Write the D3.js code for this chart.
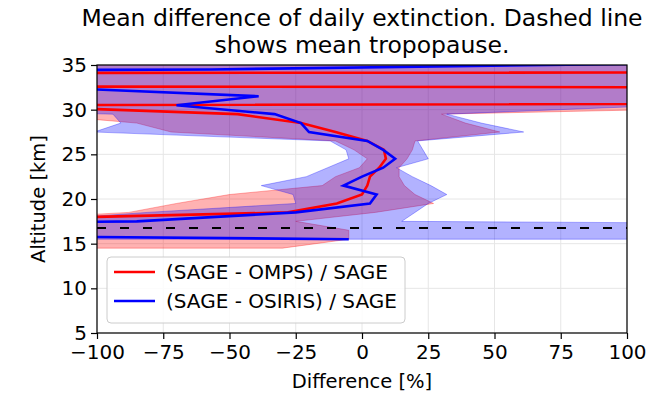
<!DOCTYPE html>
<html>
<head>
<meta charset="utf-8">
<script src="https://cdn.jsdelivr.net/npm/d3@7"></script>
<style>
  html, body { margin: 0; padding: 0; background: #fff; }
  svg { display: block; font-family: "DejaVu Sans", sans-serif; }
</style>
</head>
<body>
<svg id="chart" width="671" height="397"></svg>
<script>
// Altitude grid of the profiles [km]
const altitude = [14.5, 15.5, 16.5, 17.5, 18.5, 19.5, 20.5, 21.5, 22.5, 23.5, 24.5,
                  25.5, 26.5, 27.5, 28.5, 29.5, 30.5, 31.5, 32.5, 33.5, 34.5, 35.5];

// (SAGE - OMPS) / SAGE : mean and spread band [%]
const ompsMean = [-420, -300, -800, -172, -28, -9.5, 0, 2, 3, 6.5, 9,
                  8.3, 2, -10, -23, -47, -142, 1600, 150, -3000, 1700, 2000];
const ompsLow  = [-800, -700, -1600, -150, -88, -70, -50, -15, -10, -1, 2,
                  -3, -10, -72, -85, -124, -500, -3000, -3000, -6000, -4000, -4000];
const ompsHigh = [-30, -5, -5, -25, 5, 27, 20, 16, 14, 14, 17,
                  19, 20, 52, 39, 30, 189, 5000, 3000, 6000, 6000, 6000];

// (SAGE - OSIRIS) / SAGE : mean and spread band [%] (no value at the lowest level)
const osirisMean = [null, -5, -400, -85, -25, 3, 5.5, -7, 0, 8, 12.5,
                    8, 2, -20, -23, -33, -70, -39, -120, -1000, -57, 200];
const osirisLow  = [null, -400, -1000, -128, -81, -25, -26, -38, -21, -13, -5,
                    -6, -12, -101, -91, -94, -257, -2000, -2000, -4000, -3000, -3000];
const osirisHigh = [null, 400, 600, 15, 20, 25, 32, 26, 19, 13, 25,
                    23, 21, 61, 45, 32, 117, 2000, 2000, 3000, 3000, 3000];

// Mean tropopause height [km]
const tropopause = 16.75;

const xTicks = [-100, -75, -50, -25, 0, 25, 50, 75, 100];
const yTicks = [5, 10, 15, 20, 25, 30, 35];

const seriesNames = ["(SAGE - OMPS) / SAGE", "(SAGE - OSIRIS) / SAGE"];

// ---- layout ----
const plot = { left: 97, right: 627, top: 65, bottom: 333 };
const TICK_FONT = 20, LABEL_FONT = 19.5, LEGEND_FONT = 20, TITLE_FONT = 23.5;

const svg = d3.select("#chart");
const x = d3.scaleLinear().domain([-100, 100]).range([plot.left, plot.right]);
const y = d3.scaleLinear().domain([5, 35]).range([plot.bottom, plot.top]);

const fmt = v => (v < 0 ? "\u2212" + Math.abs(v) : String(v));

// clip region for the data
svg.append("defs").append("clipPath").attr("id", "plotClip")
  .append("rect")
  .attr("x", plot.left).attr("y", plot.top)
  .attr("width", plot.right - plot.left).attr("height", plot.bottom - plot.top);

// grid
const grid = svg.append("g").attr("class", "grid");
grid.selectAll("line.gx").data(xTicks).join("line")
  .attr("x1", d => x(d)).attr("x2", d => x(d))
  .attr("y1", plot.top).attr("y2", plot.bottom)
  .attr("stroke", "#e6e6e6").attr("stroke-width", 1);
grid.selectAll("line.gy").data(yTicks).join("line")
  .attr("y1", d => y(d)).attr("y2", d => y(d))
  .attr("x1", plot.left).attr("x2", plot.right)
  .attr("stroke", "#e6e6e6").attr("stroke-width", 1);

// build profile records
function profile(mean, low, high) {
  return altitude.map((a, i) => ({ alt: a, mean: mean[i], low: low[i], high: high[i] }))
    .filter(d => d.mean !== null);
}
const series = [
  { name: seriesNames[0], color: "#ff0000", data: profile(ompsMean, ompsLow, ompsHigh) },
  { name: seriesNames[1], color: "#0000ff", data: profile(osirisMean, osirisLow, osirisHigh) }
];

const dataLayer = svg.append("g").attr("clip-path", "url(#plotClip)");

const band = d3.area()
  .y(d => y(d.alt))
  .x0(d => x(d.low))
  .x1(d => x(d.high));

const line = d3.line()
  .y(d => y(d.alt))
  .x(d => x(d.mean));

series.forEach(s => {
  dataLayer.append("path")
    .datum(s.data)
    .attr("d", band)
    .attr("fill", s.color).attr("fill-opacity", 0.3)
    .attr("stroke", s.color).attr("stroke-opacity", 0.3).attr("stroke-width", 1);
});

series.forEach(s => {
  dataLayer.append("path")
    .datum(s.data)
    .attr("d", line)
    .attr("fill", "none")
    .attr("stroke", s.color).attr("stroke-width", 2.6)
    .attr("stroke-linejoin", "miter");
});

// tropopause
dataLayer.append("line")
  .attr("x1", plot.left).attr("x2", plot.right)
  .attr("y1", y(tropopause)).attr("y2", y(tropopause))
  .attr("stroke", "#000").attr("stroke-width", 2)
  .attr("stroke-dasharray", "9,14");

// frame
svg.append("rect")
  .attr("x", plot.left).attr("y", plot.top)
  .attr("width", plot.right - plot.left).attr("height", plot.bottom - plot.top)
  .attr("fill", "none").attr("stroke", "#000").attr("stroke-width", 1.2);

// axes
const xAxis = svg.append("g")
  .attr("transform", `translate(0,${plot.bottom})`)
  .call(d3.axisBottom(x).tickValues(xTicks).tickFormat(fmt).tickSize(6).tickPadding(6));
const yAxis = svg.append("g")
  .attr("transform", `translate(${plot.left},0)`)
  .call(d3.axisLeft(y).tickValues(yTicks).tickFormat(fmt).tickSize(6).tickPadding(4));
[xAxis, yAxis].forEach(g => {
  g.select(".domain").remove();
  g.selectAll(".tick line").attr("stroke", "#000").attr("stroke-width", 1.2);
  g.selectAll(".tick text").attr("fill", "#000")
    .style("font-family", "'DejaVu Sans', sans-serif").style("font-size", TICK_FONT + "px");
});

// axis titles
svg.append("text")
  .attr("x", (plot.left + plot.right) / 2).attr("y", 388)
  .attr("text-anchor", "middle").style("font-size", LABEL_FONT + "px")
  .text("Difference [%]");
svg.append("text")
  .attr("transform", `translate(45,${(plot.top + plot.bottom) / 2}) rotate(-90)`)
  .attr("text-anchor", "middle").style("font-size", LABEL_FONT + "px")
  .text("Altitude [km]");

// title
const title = svg.append("text").attr("text-anchor", "middle").style("font-size", TITLE_FONT + "px");
title.append("tspan").attr("x", 362).attr("y", 26).text("Mean difference of daily extinction. Dashed line");
title.append("tspan").attr("x", 362).attr("y", 53).text("shows mean tropopause.");

// legend
const legend = svg.append("g");
legend.append("rect")
  .attr("x", 107).attr("y", 257).attr("width", 298).attr("height", 66).attr("rx", 4)
  .attr("fill", "#fff").attr("fill-opacity", 0.85)
  .attr("stroke", "#cccccc").attr("stroke-width", 1);
series.forEach((s, i) => {
  const cy = 272 + i * 29;
  legend.append("line")
    .attr("x1", 114).attr("x2", 155).attr("y1", cy).attr("y2", cy)
    .attr("stroke", s.color).attr("stroke-width", 2.6);
  legend.append("text")
    .attr("x", 166).attr("y", cy).attr("dy", "0.35em")
    .style("font-size", LEGEND_FONT + "px")
    .text(s.name);
});
</script>
</body>
</html>
